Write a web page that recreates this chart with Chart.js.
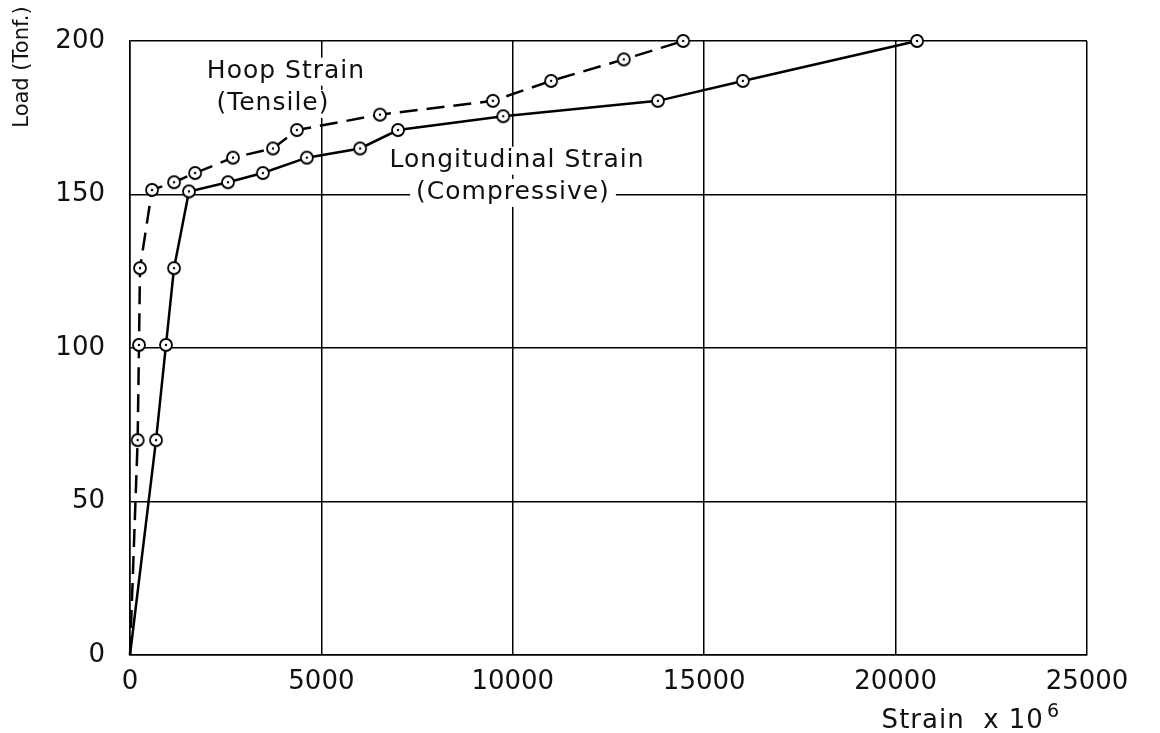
<!DOCTYPE html>
<html>
<head>
<meta charset="utf-8">
<script src="https://cdn.jsdelivr.net/npm/chart.js@4.4.1/dist/chart.umd.min.js"></script>
<style>
  body { margin: 0; background: #fff; }
  #wrap { width: 1160px; height: 733px; }
</style>
</head>
<body>
<div id="wrap"><canvas id="c"></canvas></div>
<script>
// values (strain x 10^6, load in tonf)
var hoopStrain = [0, 200, 235, 261, 575, 1150, 1700, 2690, 3735, 4360, 6530, 9480, 11000, 12900, 14450];
var hoopLoad   = [0, 70, 101, 126, 151.5, 154, 157, 162, 165, 171, 176, 180.5, 187, 194, 200];
var longStrain = [0, 680, 940, 1150, 1540, 2560, 3470, 4620, 6010, 7000, 9750, 13790, 16010, 20560];
var longLoad   = [0, 70, 101, 126, 151, 154, 157, 162, 165, 171, 175.5, 180.5, 187, 200];

var xTicks = [0, 5000, 10000, 15000, 20000, 25000];
var yTicks = [0, 50, 100, 150, 200];

// text notes on the plot, placed in data units
var notes = [
  { text: 'Hoop Strain', x: 4075, y: 190 },
  { text: '(Tensile)', x: 3735, y: 179.5 },
  { text: 'Longitudinal Strain', x: 10110, y: 161 },
  { text: '(Compressive)', x: 10005, y: 150.5 }
];

var FONT = '"DejaVu Sans", sans-serif';

function toXY(xs, ys) {
  var out = [];
  for (var i = 0; i < xs.length; i++) out.push({ x: xs[i], y: ys[i] });
  return out;
}

function makeMarker() {
  var c = document.createElement('canvas');
  c.width = 16; c.height = 16;
  var g = c.getContext('2d');
  g.beginPath();
  g.arc(8, 8, 6, 0, Math.PI * 2);
  g.fillStyle = '#fff';
  g.fill();
  g.lineWidth = 1.8;
  g.strokeStyle = '#000';
  g.stroke();
  g.beginPath();
  g.arc(8, 8, 1.2, 0, Math.PI * 2);
  g.fillStyle = '#000';
  g.fill();
  return c;
}
var marker = makeMarker();

function radii(n) {
  var r = [];
  for (var i = 0; i < n; i++) r.push(i === 0 ? 0 : 7);
  return r;
}

var notesPlugin = {
  id: 'notes',
  beforeDatasetsDraw: function(chart) {
    var ctx = chart.ctx, xs = chart.scales.x, ys = chart.scales.y;
    ctx.save();
    ctx.font = '25px ' + FONT;
    ctx.letterSpacing = '1px';
    ctx.textAlign = 'center';
    ctx.textBaseline = 'middle';
    notes.forEach(function(n) {
      var px = xs.getPixelForValue(n.x), py = ys.getPixelForValue(n.y);
      var w = ctx.measureText(n.text).width;
      ctx.fillStyle = '#fff';
      ctx.fillRect(px - w / 2 - 6, py - 14, w + 12, 28);
      ctx.fillStyle = '#111';
      ctx.fillText(n.text, px, py);
    });
    ctx.restore();
  },
  afterDraw: function(chart) {
    var ctx = chart.ctx;
    ctx.save();
    ctx.fillStyle = '#111';
    ctx.letterSpacing = '1px';
    // x axis title with superscript
    ctx.textBaseline = 'alphabetic';
    ctx.textAlign = 'right';
    var right = 1060;
    ctx.font = '19px ' + FONT;
    var sw = ctx.measureText('6').width;
    ctx.fillText('6', right, 717);
    ctx.font = '26px ' + FONT;
    ctx.fillText('Strain  x 10', right - sw - 3, 728);
    // y axis title, rotated
    ctx.translate(23, 67);
    ctx.rotate(-Math.PI / 2);
    ctx.textAlign = 'center';
    ctx.textBaseline = 'middle';
    ctx.font = '21px ' + FONT;
    ctx.letterSpacing = '0px';
    ctx.fillText('Load (Tonf.)', 0, 0);
    ctx.restore();
  }
};

new Chart(document.getElementById('c'), {
  type: 'line',
  data: {
    datasets: [{
      label: 'Hoop Strain (Tensile)',
      data: toXY(hoopStrain, hoopLoad),
      borderColor: '#000',
      borderWidth: 2.5,
      borderDash: [18, 9],
      pointStyle: marker,
      pointRadius: radii(hoopStrain.length),
      tension: 0,
      clip: false
    }, {
      label: 'Longitudinal Strain (Compressive)',
      data: toXY(longStrain, longLoad),
      borderColor: '#000',
      borderWidth: 2.5,
      pointStyle: marker,
      pointRadius: radii(longStrain.length),
      tension: 0,
      clip: false
    }]
  },
  options: {
    responsive: true,
    maintainAspectRatio: false,
    animation: false,
    layout: { padding: { left: 0, right: 73, top: 41, bottom: 0 } },
    plugins: {
      legend: { display: false },
      tooltip: { enabled: false }
    },
    scales: {
      x: {
        type: 'linear',
        min: 0, max: 25000,
        afterBuildTicks: function(s) { s.ticks = xTicks.map(function(v) { return { value: v }; }); },
        afterFit: function(s) { s.height = 78; },
        ticks: {
          color: '#111',
          font: { family: FONT, size: 26 },
          padding: 12,
          maxRotation: 0,
          callback: function(v) { return String(v); }
        },
        grid: { color: '#000', lineWidth: 1.5, drawTicks: false },
        border: { color: '#000', width: 1.5 }
      },
      y: {
        type: 'linear',
        min: 0, max: 200,
        afterBuildTicks: function(s) { s.ticks = yTicks.map(function(v) { return { value: v }; }); },
        afterFit: function(s) { s.width = 130; },
        ticks: {
          color: '#111',
          font: { family: FONT, size: 26 },
          padding: 25,
          callback: function(v) { return String(v); }
        },
        grid: { color: '#000', lineWidth: 1.5, drawTicks: false },
        border: { color: '#000', width: 1.5 }
      }
    }
  },
  plugins: [notesPlugin]
});
</script>
</body>
</html>
